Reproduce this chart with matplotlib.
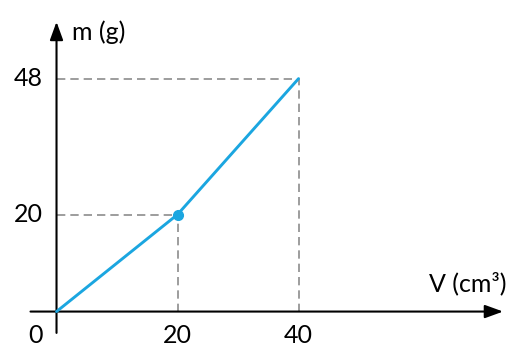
import matplotlib.pyplot as plt

# data
volume = [0, 20, 40]
mass = [0, 20, 48]
x_ticks = [20, 40]
y_ticks = [20, 48]

LINE_COLOR = '#1ba6e0'
DASH_COLOR = '#8c8c8c'

plt.rcParams['font.family'] = ['Lato', 'DejaVu Sans']

fig = plt.figure(figsize=(5.17, 3.63), dpi=100)
ax = fig.add_axes([0, 0, 1, 1])
ax.set_xlim(-9.34, 76.1)
ax.set_ylim(-10.6, 64.2)
ax.axis('off')

# axes with arrows
arrow = dict(arrowstyle='-|>,head_length=0.55,head_width=0.2', color='black',
             lw=1.5, mutation_scale=20, shrinkA=0, shrinkB=0)
ax.annotate('', xy=(73.8, 0), xytext=(-4.3, 0), arrowprops=arrow)
ax.annotate('', xy=(0, 59.7), xytext=(0, -4.4), arrowprops=arrow)

# dashed guide lines
for xv, yv in zip(volume[1:], mass[1:]):
    ax.plot([xv, xv], [0, yv], color=DASH_COLOR, lw=1.2, ls=(0, (5, 3)), zorder=1)
    ax.plot([0, xv], [yv, yv], color=DASH_COLOR, lw=1.2, ls=(0, (5, 3)), zorder=1)

ax.plot(volume, mass, color=LINE_COLOR, lw=2.1, solid_capstyle='round', zorder=3)
ax.plot([volume[1]], [mass[1]], 'o', color=LINE_COLOR, ms=7, zorder=4)

# tick labels
fs = 18
for xv in x_ticks:
    ax.text(xv, -4.9, str(xv), ha='center', va='center', fontsize=fs)
for yv in y_ticks:
    ax.text(-2.2, yv, str(yv), ha='right', va='center', fontsize=fs)
ax.text(-2.2, -4.9, '0', ha='right', va='center', fontsize=fs)

ax.text(2.6, 57.6, 'm (g)', ha='left', va='center', fontsize=fs)
ax.text(74.3, 5.8, 'V (cm³)', ha='right', va='center', fontsize=fs)

fig.savefig('out.png', dpi=100)
